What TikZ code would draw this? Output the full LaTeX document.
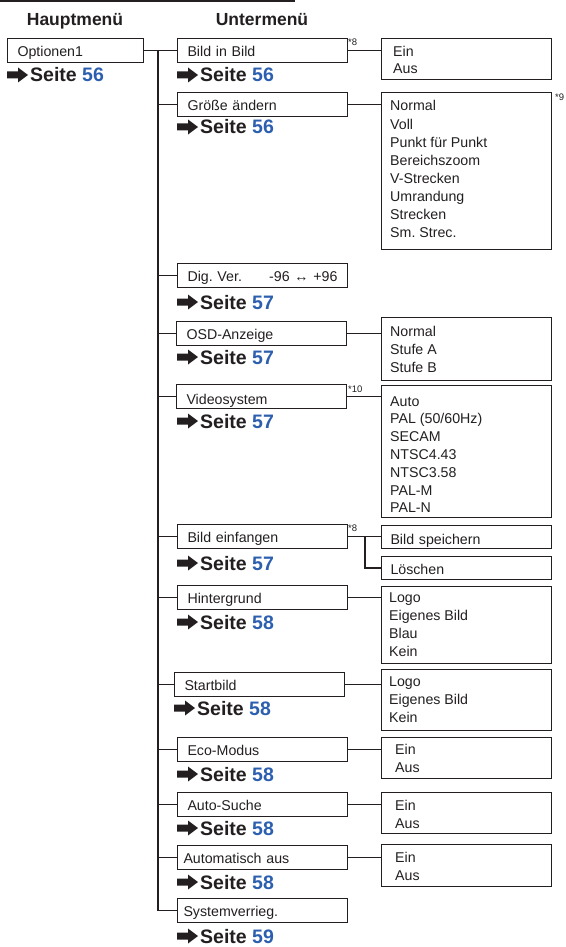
\documentclass[tikz,border=0pt]{standalone}
\usepackage{fontspec}
\setmainfont{Liberation Sans}
\usetikzlibrary{calc}
\definecolor{sblue}{RGB}{45,95,175}
\definecolor{ink}{RGB}{35,31,32}
\frenchspacing
\begin{document}
\begin{tikzpicture}[x=1pt,y=-1pt,
  box/.style={draw=ink, line width=1pt, rectangle, minimum height=24pt, inner ysep=0pt, inner xsep=10pt,
    text height=12pt, text depth=0pt, text width=150pt, align=left, anchor=north west,
    font=\fontsize{14.2}{16}\selectfont, text=ink},
  optbox/.style={draw=ink, line width=1pt, rectangle, minimum width=170pt, inner sep=0pt, anchor=north west},
  opt/.style={anchor=base west, inner sep=0pt, font=\fontsize{14.2}{16}\selectfont, text=ink},
  conn/.style={draw=ink, line width=1.6pt},
  seite/.style={anchor=base west, inner sep=0pt, font=\fontsize{19.5}{22}\bfseries\selectfont, text=ink},
  head/.style={anchor=base, inner sep=0pt, font=\fontsize{17.5}{20}\bfseries\selectfont, text=ink},
  note/.style={anchor=base west, inner sep=0pt, font=\fontsize{9.5}{11}\selectfont, text=ink},
  sarrow/.pic={\fill[ink] (0,-3.5) -- (11,-3.5) -- (11,-7.5) -- (21,0) -- (11,7.5) -- (11,3.5) -- (0,3.5) -- cycle;}
]
\useasboundingbox (0,0) rectangle (565,947);
\clip (0,0) rectangle (565,947);

% top rule and headers
\draw[ink, line width=1.5pt] (0,0.9) -- (295,0.9);
\node[head] (h1) at (75,26) {Hauptmenü};
\node[head] (h2) at (262,26) {Untermenü};

% main menu
\node[box, text width=116pt] (m) at (7,38) {Optionen1};

% sub menu boxes
\node[box] (b1) at (177,38) {Bild in Bild};
\node[box] (b2) at (177,92) {Größe ändern};
\node[box] (b3) at (177,263) {Dig. Ver.\hfill -96 ↔ +96};
\node[box] (b4) at (176,321) {OSD-Anzeige};
\node[box, text height=16pt] (b5) at (176,384) {Videosystem};
\node[box] (b6) at (177,524) {Bild einfangen};
\node[box] (b7) at (177,585) {Hintergrund};
\node[box] (b8) at (174,672) {Startbild};
\node[box] (b9) at (177,737) {Eco-Modus};
\node[box] (b10) at (177,792) {Auto-Suche};
\node[box, inner xsep=6pt, text width=158pt] (b11) at (177,845) {Automatisch aus};
\node[box, inner xsep=6pt, text width=158pt] (b12) at (177,898) {Systemverrieg.};

% trunk
\coordinate (ttop) at (158,50);
\draw[conn] (m.east) -- (b1.west);
\draw[conn] (ttop) |- (b12.west);
\foreach \i in {2,...,11} {\draw[conn] (b\i.west) -- (b\i.west -| ttop);}

% option boxes
\node[optbox, minimum height=41pt] (oA) at (381,38) {};
\node[opt] (oA1) at (393,57) {Ein};
\node[opt] (oA2) at (393,74) {Aus};

\node[optbox, minimum height=157pt] (oB) at (381,92) {};
\foreach \t [count=\k from 0] in {Normal,Voll,Punkt für Punkt,Bereichszoom,V-Strecken,Umrandung,Strecken,Sm. Strec.}
  {\node[opt] (oB\k) at (390,{111+18*\k}) {\t};}

\node[optbox, minimum height=63pt] (oC) at (381,317) {};
\foreach \t [count=\k from 0] in {Normal,Stufe A,Stufe B}
  {\node[opt] (oC\k) at (390,{336+18*\k}) {\t};}

\node[optbox, minimum height=132pt] (oD) at (381,385) {};
\foreach \t [count=\k from 0] in {Auto,PAL (50/60Hz),SECAM,NTSC4.43,NTSC3.58,PAL-M,PAL-N}
  {\node[opt] (oD\k) at (390,{406+17.8*\k}) {\t};}

\node[box, minimum height=23pt, text height=14pt, inner xsep=9pt, text width=152pt] (oE1) at (381,525) {Bild speichern};
\node[box, minimum height=23pt, text height=13pt, inner xsep=9pt, text width=152pt] (oE2) at (381,556) {Löschen};

\node[optbox, minimum height=77pt] (oF) at (381,586) {};
\foreach \t [count=\k from 0] in {Logo,Eigenes Bild,Blau,Kein}
  {\node[opt] (oF\k) at (389,{602+18*\k}) {\t};}

\node[optbox, minimum height=61pt] (oG) at (381,669) {};
\foreach \t [count=\k from 0] in {Logo,Eigenes Bild,Kein}
  {\node[opt] (oG\k) at (389,{686+18*\k}) {\t};}

\node[optbox, minimum height=41pt] (oH) at (381,737) {};
\node[opt] (oH1) at (395,754) {Ein};
\node[opt] (oH2) at (395,772) {Aus};

\node[optbox, minimum height=41pt] (oI) at (381,792) {};
\node[opt] (oI1) at (395,810) {Ein};
\node[opt] (oI2) at (395,828) {Aus};

\node[optbox, minimum height=42pt] (oJ) at (381,844) {};
\node[opt] (oJ1) at (395,862) {Ein};
\node[opt] (oJ2) at (395,880) {Aus};

% connectors sub -> options
\draw[conn] (b1.east) -- (b1.east -| oA.west);
\draw[conn] (b2.east) -- (b2.east -| oB.west);
\draw[conn] (b4.east) -- (b4.east -| oC.west);
\draw[conn] (b5.east) -- (b5.east -| oD.west);
\draw[conn] (b6.east) -- (b6.east -| oE1.west);
\coordinate (br) at ($(b6.east)+(17,0)$);
\draw[conn] (br) |- (oE2.west);
\draw[conn] (b7.east) -- (b7.east -| oF.west);
\draw[conn] (b8.east) -- (b8.east -| oG.west);
\draw[conn] (b9.east) -- (b9.east -| oH.west);
\draw[conn] (b10.east) -- (b10.east -| oI.west);
\draw[conn] (b11.east) -- (b11.east -| oJ.west);

% footnote marks
\node[note] (n1) at (348,46) {*8};
\node[note] (n2) at (555,101) {*9};
\node[note] (n3) at (348,392) {*10};
\node[note] (n4) at (348,531) {*8};

% page references
\foreach \n/\x/\y/\p in {0/7/82/56, 1/177/82/56, 2/177/134/56, 3/177/309/57, 4/177/364/57,
  5/177/428/57, 6/177/570/57, 7/177/629/58, 8/174/715/58, 9/177/781/58, 10/177/835/58,
  11/177/889/58, 12/177/943/59}
{
  \pic at (\x,{\y-7}) {sarrow};
  \node[seite] (s\n) at ({\x+23},\y) {Seite \textcolor{sblue}{\p}};
}
\end{tikzpicture}
\end{document}
